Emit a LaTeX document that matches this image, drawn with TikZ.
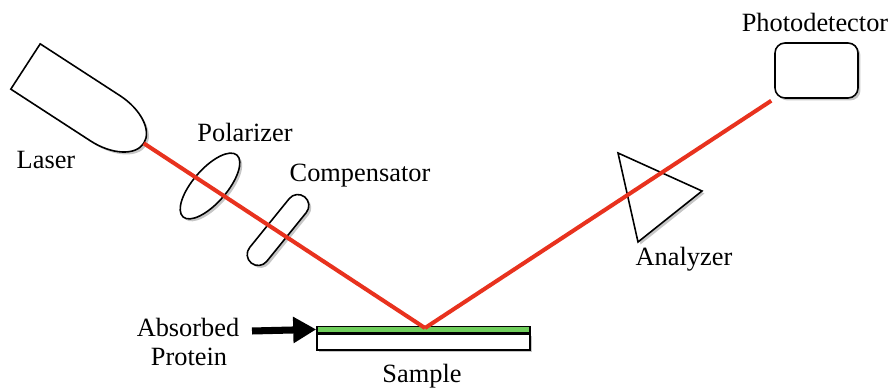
\documentclass[tikz,border=0pt]{standalone}
\usepackage{fontspec}
\setmainfont{Liberation Serif}
\usetikzlibrary{shapes.geometric,shadows,arrows.meta}

\definecolor{beamred}{RGB}{232,50,30}
\definecolor{filmgreen}{RGB}{112,206,92}

\tikzset{
  optic/.style={draw,line width=0.9pt,fill=white,inner sep=0pt,
    drop shadow={opacity=0.45,shadow xshift=1.4pt,shadow yshift=-1.4pt}},
  beam/.style={beamred,line width=2.3pt},
  tag/.style={font=\fontsize{15}{17}\selectfont,inner sep=0pt},
  pointer/.style={line width=4pt,-{Triangle[length=4.6mm,width=5mm]}}
}

\begin{document}
\begin{tikzpicture}[x=0.2mm,y=-0.2mm]
\useasboundingbox (0,0) rectangle (893,388);

% sample with the protein film on top
\node[optic,minimum width=42.6mm,minimum height=3.2mm] (sample) at (423.5,342) {};
\node[draw,line width=0.9pt,fill=filmgreen,inner sep=0pt,minimum width=42.6mm,
  minimum height=1.2mm,anchor=south] (film) at (sample.north) {};
\coordinate (spot) at (425,328);

% optics in the beam path
\node[optic,ellipse,minimum width=16.4mm,minimum height=6.8mm,rotate=49] (polarizer) at (210,186) {};
\node[optic,rectangle,rounded corners=2.2mm,minimum width=17mm,minimum height=4.4mm,rotate=51] (compensator) at (278,230) {};
\draw[optic] (618,153) -- (702,191) -- (638,242) -- cycle;
\node[optic,rectangle,rounded corners=2mm,minimum width=16.6mm,minimum height=11mm] (detector) at (816.5,70.5) {};

% laser body
\begin{scope}[shift={(25.5,66.5)},rotate=-33]
  \draw[optic] (0,-27) -- (95,-27) arc[start angle=-90,end angle=90,x radius=46,y radius=27] -- (0,27) -- cycle;
  \coordinate (laser) at (141,0);
\end{scope}

% light path
\draw[beam] (laser) -- (spot);
\draw[beam,shorten >=2pt] (spot) -- (detector.south west);

% labels
\begin{scope}[every node/.style={tag}]
  \node (lasertag) at (46,160) {Laser};
  \node (poltag) at (245,132) {Polarizer};
  \node (comptag) at (360,176) {Compensator};
  \node (antag) at (684,259) {Analyzer};
  \node (dettag) at (815,22) {Photodetector};
  \node (absorbed) at (188,327) {Absorbed};
  \node (protein) at (189,357) {Protein};
  \node (sampletag) at (422,376) {Sample};
\end{scope}

\coordinate (tail) at (252,331);
\draw[pointer] (tail) -- (film.west);
\end{tikzpicture}
\end{document}
